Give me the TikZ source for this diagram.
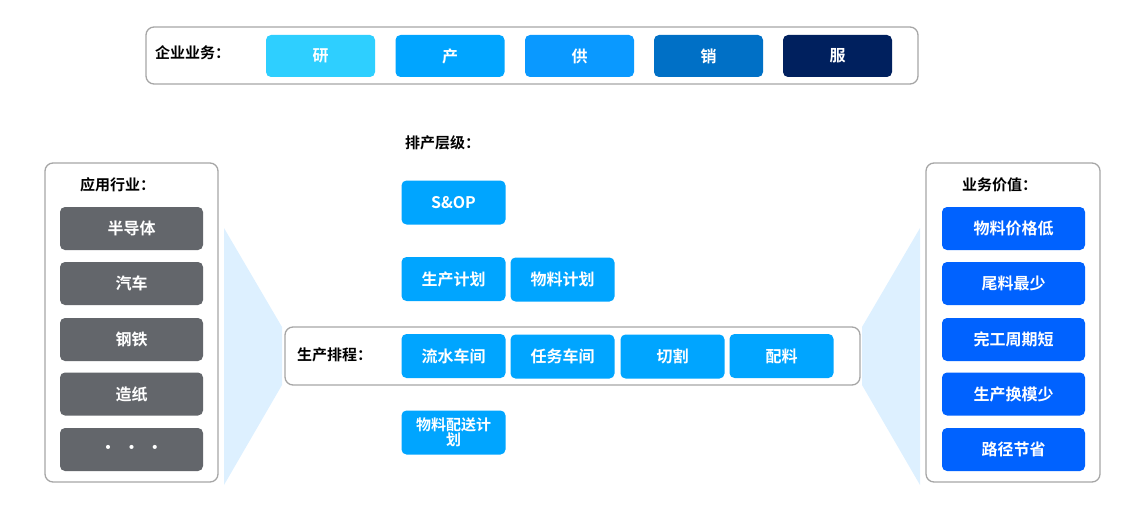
\documentclass[tikz,border=0pt]{standalone}
\usepackage{fontspec}
\setmainfont{Noto Sans CJK SC}[BoldFont={* Bold}]
\begin{document}
\begin{tikzpicture}[x=1pt,y=-1pt,
 frame/.style={draw=black!35,line width=1.3pt,rounded corners=8pt,fill=white},
 btn/.style={rounded corners=5pt,text=white,font=\bfseries\fontsize{16}{17}\selectfont,inner sep=0pt,align=center,minimum height=43pt},
 bt/.style={btn,minimum width=109pt,minimum height=42pt},
 mid/.style={btn,fill=mb,minimum width=104pt,minimum height=44pt},
 side/.style={btn,minimum width=143pt,minimum height=43pt},
 lbl/.style={anchor=west,font=\bfseries\fontsize{15}{17}\selectfont,inner sep=0pt}]
\definecolor{c1}{HTML}{2ECFFF}\definecolor{c2}{HTML}{00A5FF}\definecolor{c3}{HTML}{0A99FF}
\definecolor{c4}{HTML}{0070C6}\definecolor{c5}{HTML}{00205E}\definecolor{mb}{HTML}{00A5FF}
\definecolor{gr}{HTML}{63666B}\definecolor{vb}{HTML}{0062FF}\definecolor{lt}{HTML}{DDF0FF}
\useasboundingbox (0,0) rectangle (1140,516);
\fill[lt] (224,228) -- (282,327) -- (282,385) -- (224,485) -- cycle;
\fill[lt] (920,228) -- (862,327) -- (862,385) -- (920,485) -- cycle;
% top
\draw[frame] (146,27) rectangle (918,84);
\node[lbl] (tl) at (155,53) {企业业务：};
\node[bt,fill=c1] (b1) at (320.5,56) {研};
\node[bt,fill=c2] (b2) at (450,56) {产};
\node[bt,fill=c3] (b3) at (579.5,56) {供};
\node[bt,fill=c4] (b4) at (708.5,56) {销};
\node[bt,fill=c5] (b5) at (837.5,56) {服};
% middle
\node[lbl] (pl) at (405,143) {排产层级：};
\node[mid] (sop) at (453.5,202.5) {S\&OP};
\node[mid] (scjh) at (453.5,279) {生产计划};
\node[mid] (wljh) at (562.5,279.5) {物料计划};
\draw[frame] (285,327) rectangle (860,385);
\node[lbl] (pc) at (297,355) {生产排程：};
\node[mid] (ls) at (453.5,356) {流水车间};
\node[mid] (rw) at (562.5,356.5) {任务车间};
\node[mid] (qg) at (672.5,356.5) {切割};
\node[mid] (pl2) at (781.5,356) {配料};
\node[mid,font=\bfseries\fontsize{15}{15}\selectfont] (ps) at (453.5,432.5) {物料配送计\\划};
% left
\draw[frame] (45,163) rectangle (218,482);
\node[lbl] (ll) at (80,185) {应用行业：};
\node[side,fill=gr] (l1) at (131.5,228.5) {半导体};
\node[side,fill=gr] (l2) at (131.5,283.5) {汽车};
\node[side,fill=gr] (l3) at (131.5,339.5) {钢铁};
\node[side,fill=gr] (l4) at (131.5,394) {造纸};
\node[side,fill=gr] (l5) at (131.5,449.5) {•\ \ •\ \ •};
% right
\draw[frame] (926,163) rectangle (1100,482);
\node[lbl] (rl) at (962,185) {业务价值：};
\node[side,fill=vb] (r1) at (1013.5,228.5) {物料价格低};
\node[side,fill=vb] (r2) at (1013.5,283.5) {尾料最少};
\node[side,fill=vb] (r3) at (1013.5,339.5) {完工周期短};
\node[side,fill=vb] (r4) at (1013.5,394) {生产换模少};
\node[side,fill=vb] (r5) at (1013.5,449.5) {路径节省};
\end{tikzpicture}
\end{document}
